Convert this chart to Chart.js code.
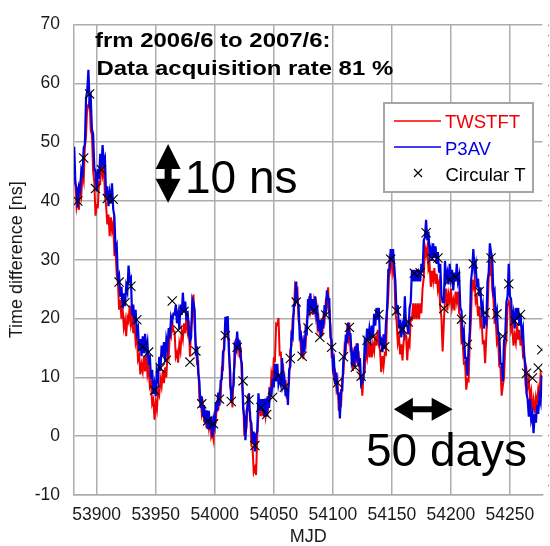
<!DOCTYPE html>
<html>
<head>
<meta charset="utf-8">
<script src="https://cdn.jsdelivr.net/npm/chart.js@4.4.1/dist/chart.umd.min.js"></script>
<style>
html, body { margin: 0; padding: 0; background: #fff; }
#wrap { width: 550px; height: 546px; }
</style>
</head>
<body>
<div id="wrap"><canvas id="chart" width="550" height="546"></canvas></div>
<script>
// daily samples, first day MJD 53881
const mjdStart = 53881;

const p3av = [
  49.2, 42.9, 42.3, 38.9, 42.4, 41.8, 45.3, 44.6, 49, 49.6,
  57.4, 58.7, 62.3, 56.6, 57.5, 52.1, 51.4, 45.7, 44.9, 41.6,
  45.4, 43.7, 48, 45.6, 49.5, 46.6, 47.3, 40.7, 42.5, 39.1,
  41.3, 39.6, 43, 38.6, 37.4, 31.7, 32.4, 26.6, 27.3, 23.7,
  25.4, 21.7, 24.3, 22.1, 25.5, 24.6, 29, 26.5, 26.9, 20.6,
  22.4, 19.1, 21.5, 17.6, 18.4, 14.6, 16.5, 13.6, 17, 14.1,
  17.4, 14.6, 15.9, 12.1, 13.9, 9.7, 11.3, 7.2, 8.8, 6.8,
  10.9, 9.6, 13.5, 11.1, 15.4, 13.6, 16, 12.6, 16.4, 15.1,
  18.4, 16.7, 20.3, 19.6, 20.8, 20.7, 22.3, 19.2, 20.8, 18.2,
  22.4, 20.6, 24.4, 21.2, 22.9, 19.7, 21.3, 17.7, 16.2, 16.8,
  23.3, 22.7, 21.4, 13.7, 15.3, 10.7, 9.3, 4.8, 6.8, 3.3,
  5.3, 2.2, 4.4, 1.2, 4.3, 1.2, 3.3, -0.1, 2.8, 1.8,
  5.8, 4.2, 7.4, 5.2, 9.4, 9.7, 14.4, 14.7, 20.3, 18.8,
  20.4, 14.2, 11.3, 5.8, 7.9, 8.7, 15.4, 14.8, 17.8, 14.7,
  16.3, 13.2, 12.3, 4.8, 3.3, -0.7, 4.3, 5.3, 7.3, 2.8,
  2.2, -1.1, 0.8, -2.6, 0.3, 0.8, 7.3, 4.3, 6.3, 4.3,
  6.3, 3.3, 6.4, 3.3, 6.8, 4.8, 8.3, 6.8, 9.8, 8.3,
  12.3, 9.3, 12.3, 8.8, 9.8, 8.8, 13.3, 8.8, 9.8, 6.8,
  8.3, 5.3, 11.3, 11.8, 17.3, 16.8, 22.3, 22.3, 26.3, 22.8,
  22.3, 16.8, 17.3, 13.8, 15.8, 14.3, 18.3, 17.8, 23.3, 21.8,
  24.3, 21.3, 23.3, 20.8, 23.8, 20.3, 21.3, 17.8, 19.8, 16.8,
  19.8, 18.3, 22.3, 20.8, 24.8, 23.3, 23.3, 16.8, 16.3, 11.8,
  12.8, 8.8, 10.8, 7.3, 7.3, 3, 7.8, 7.8, 13.3, 13.3,
  17.3, 15.8, 19.3, 17.3, 17.3, 12.8, 13.8, 11.8, 15.3, 13.8,
  15.8, 11.8, 13.3, 8.8, 9.3, 9.8, 15.8, 14.8, 18.3, 16.3,
  18.3, 16.8, 18.8, 16.8, 20.8, 18.8, 21.8, 19.8, 21.8, 15.8,
  16.3, 14.3, 17.3, 14.8, 19.3, 21.8, 28.3, 28.3, 31.8, 29.8,
  31.8, 28.8, 26.3, 20.8, 22.3, 18.3, 19.8, 16.8, 18.8, 17.8,
  23.8, 18.8, 18.8, 17.3, 21.8, 22.8, 28.3, 26.3, 28.3, 26.3,
  28.3, 26.3, 28.3, 26.3, 29.3, 27.8, 33.3, 33.8, 36.8, 33.3,
  34.8, 30.8, 31.8, 29.8, 32.8, 30.3, 32.3, 29.3, 31.3, 27.8,
  29.3, 23.8, 22.8, 22.8, 29.8, 26.8, 27.8, 25.8, 29.3, 26.8,
  28.3, 24.8, 27.8, 26.3, 29.3, 26.3, 27.3, 21.8, 21.3, 16.8,
  17.8, 13.3, 13.3, 10.3, 15.3, 17.8, 26.3, 28.3, 31.8, 28.3,
  29.3, 25.3, 26.8, 23.8, 25.3, 21.3, 22.3, 18.3, 19.8, 19.3,
  26.3, 27.8, 32.8, 31.3, 30.3, 24.3, 24.8, 20.3, 21.3, 17.3,
  17.3, 12.3, 12.3, 9.3, 16.3, 16.8, 22.8, 23.8, 29.3, 23.8,
  23.3, 19.3, 20.8, 18.3, 21.8, 19.8, 21.8, 18.8, 20.8, 17.3,
  18.3, 13.8, 12.3, 7.3, 6.3, 3.3, 6.3, 2.8, 3.8, 0.5,
  3.8, 2.3, 5.3, 3.8, 6.8, 5.8, 10.3
];

const twstft = [
  44, 43.2, 39, 40.2, 38.5, 42.2, 41, 44.7, 43.5, 49.2,
  51, 56.2, 56, 57.2, 52, 51.2, 45, 43.2, 37.5, 39.2,
  39, 43.2, 43, 46.2, 44.5, 46.2, 41, 39.2, 36, 37.7,
  34, 37.2, 35, 36.2, 31, 31.2, 27.5, 26.2, 21.5, 23.2,
  20, 21.7, 18.5, 19.7, 17, 20.2, 19.5, 22.2, 19, 20.2,
  17.5, 19.2, 16, 17.2, 13, 13.7, 10.5, 12.2, 11, 13.7,
  11, 13.7, 10.5, 11.7, 8.5, 9.2, 5.5, 6.2, 2.8, 5.7,
  4.5, 7.7, 7, 9.7, 8.5, 11.2, 9, 11.7, 10, 14.2,
  13.5, 17.7, 17, 19.5, 17.8, 17.8, 13.5, 14.2, 12.5, 15.7,
  14.5, 17.7, 16.5, 19.2, 17.5, 20.2, 18, 19.7, 13.5, 18.7,
  20.4, 24.1, 18.4, 15.6, 12.4, 12.6, 6.4, 6.6, 3.9, 5.1,
  2.4, 4.1, 1.4, 3.1, 1.4, 3.1, -0.1, 0.6, -0.6, 3.6,
  2.9, 6.1, 4.4, 7.1, 6.4, 11.6, 11.4, 16.6, 16.9, 20.1,
  17.4, 16.1, 8.4, 7.6, 4.9, 10.6, 12.4, 16.6, 14.9, 16.6,
  13.4, 15.1, 9.4, 6.6, 0.4, 0.6, 1.4, 7.1, 4.4, 4.1,
  -1.6, -1.9, -6.1, -5.4, -6.6, 0.1, 3.4, 6.1, 3.4, 6.1,
  3.4, 5.1, 3.4, 5.6, 4.4, 7.6, 6.9, 10.6, 9.4, 13.1,
  12.9, 19.1, 18.9, 20.1, 13.9, 14.1, 10.9, 11.6, 7.9, 9.6,
  6.4, 8.1, 9.4, 14.6, 15.4, 20.1, 20.9, 25.6, 24.9, 25.1,
  19.6, 18.8, 14.6, 15.8, 13.1, 16.3, 15.6, 19.8, 20.6, 23.8,
  21.6, 23.3, 20.6, 22.8, 21.1, 22.3, 18.6, 19.8, 17.1, 18.8,
  17.1, 20.3, 19.6, 22.8, 22.1, 25.3, 20.6, 18.8, 13.6, 13.8,
  10.1, 10.8, 8.1, 9.3, 4.6, 4.8, 5.1, 9.8, 10.6, 15.3,
  14.6, 17.8, 16.6, 19.3, 14.6, 14.8, 11.1, 13.8, 12.6, 15.8,
  12.9, 13.6, 9.9, 10.1, 6.9, 10.6, 10.9, 14.6, 13.4, 16.1,
  13.4, 16.1, 13.4, 15.6, 14.4, 17.1, 15.4, 18.1, 15.4, 14.6,
  10.9, 13.6, 11.9, 14.1, 13.9, 21.1, 23.9, 29.6, 28.4, 31.1,
  27.9, 29.1, 20.9, 19.6, 15.9, 17.1, 13.9, 15.6, 12.9, 16.1,
  17.4, 17.1, 12.9, 16.1, 15.4, 20.1, 19.9, 22.6, 19.9, 22.6,
  19.9, 22.6, 19.9, 22.6, 20.9, 25.1, 26.9, 32.1, 30.9, 32.1,
  28.4, 29.1, 25.4, 28.1, 26.4, 28.6, 25.9, 27.6, 24.9, 26.1,
  21.9, 20.1, 14.4, 19.1, 23.4, 25.1, 21.4, 24.1, 22.9, 25.1,
  21.9, 23.1, 21.4, 24.6, 22.9, 24.6, 20.9, 20.6, 15.9, 16.1,
  12.4, 12.6, 7.9, 9.6, 9.4, 16.1, 19.9, 26.6, 25.4, 26.6,
  22.9, 23.6, 20.4, 22.1, 18.9, 19.6, 15.9, 16.1, 12.4, 17.1,
  20.9, 27.1, 27.4, 30.6, 24.9, 23.6, 19.4, 19.6, 15.9, 16.6,
  11.9, 11.6, 6.9, 8.6, 9.9, 15.1, 16.4, 22.1, 22.9, 22.1,
  17.9, 18.6, 15.4, 17.1, 15.9, 19.1, 16.4, 18.1, 15.4, 17.1,
  13.9, 14.6, 9.9, 11.1, 8.4, 9.6, 6.4, 7.6, 4.4, 6.1,
  3.9, 6.6, 5.4, 8.1, 6.9, 10.6, 9.9
];

const circTMjd = [
  53884, 53889, 53894, 53899, 53904, 53909, 53914, 53919, 53924, 53929,
  53934, 53939, 53944, 53949, 53954, 53959, 53964, 53969, 53974, 53979,
  53984, 53989, 53994, 53999, 54004, 54009, 54014, 54019, 54024, 54029,
  54034, 54039, 54044, 54049, 54054, 54059, 54064, 54069, 54074, 54079,
  54084, 54089, 54094, 54099, 54104, 54109, 54114, 54119, 54124, 54129,
  54134, 54139, 54144, 54149, 54154, 54159, 54164, 54169, 54174, 54179,
  54184, 54189, 54194, 54199, 54204, 54209, 54214, 54219, 54224, 54229,
  54234, 54239, 54244, 54249, 54254, 54259, 54264, 54269, 54274, 54277
];
const circT = [
  40.0, 47.3, 58.2, 42.1, 45.3, 40.4, 40.3, 26.2, 22.7, 25.5,
  19.8, 15.2, 14.3, 7.8, 11.6, 12.9, 23.0, 18.0, 21.2, 12.6,
  14.5, 5.5, 2.6, 2.1, 6.3, 17.1, 5.9, 15.1, 9.4, 6.2,
  -1.6, 4.9, 3.7, 6.6, 10.3, 8.3, 13.2, 22.8, 13.6, 18.4,
  21.4, 16.8, 20.6, 15.1, 9.1, 13.5, 18.5, 11.7, 10.2, 16.3,
  16.9, 20.7, 15.2, 30.1, 21.3, 18.2, 19.4, 27.7, 27.8, 34.6,
  30.2, 30.3, 21.7, 26.6, 27.1, 19.9, 15.6, 29.3, 24.6, 21.0,
  30.3, 20.8, 17.0, 25.9, 19.6, 20.7, 10.7, 9.9, 11.6, 14.7
];

const xTicks = [53900, 53950, 54000, 54050, 54100, 54150, 54200, 54250];
const seriesNames = ["TWSTFT", "P3AV", "Circular T"];
const noteLines = ["frm 2006/6 to 2007/6:", "Data acquisition rate 81 %"];

const FONT = '"Liberation Sans", Arial, sans-serif';
const RED = "#f00000";
const BLUE = "#0000e0";
const GRID = "#adadad";

function toPoints(values) {
    return values.map((v, i) => ({ x: mjdStart + i, y: v }));
}

// notes, scale arrows and the legend box drawn over the plot
const overlay = {
    id: "overlay",
    afterDraw(chart) {
        const ctx = chart.ctx;
        const xs = chart.scales.x;
        const ys = chart.scales.y;
        ctx.save();

        // small ticks along right edge
        ctx.strokeStyle = "#9a9a9a";
        ctx.lineWidth = 1;
        ctx.setLineDash([2, 8]);
        ctx.beginPath();
        ctx.moveTo(548.5, chart.chartArea.top);
        ctx.lineTo(548.5, chart.chartArea.bottom);
        ctx.stroke();
        ctx.setLineDash([]);

        ctx.fillStyle = "#000";
        ctx.textBaseline = "alphabetic";
        ctx.font = "bold 21px " + FONT;
        [[95, 46.5], [96.5, 75]].forEach((p, i) => {
            ctx.save();
            ctx.translate(p[0], p[1]);
            ctx.scale(1.14, 1);
            ctx.fillText(noteLines[i], 0, 0);
            ctx.restore();
        });

        ctx.font = "46px " + FONT;
        ctx.fillText("10 ns", 185, 193);
        ctx.fillText("50 days", 366, 466);

        // vertical 10 ns arrow
        const ax = xs.getPixelForValue(53960.5);
        const top = ys.getPixelForValue(49.7);
        const bot = ys.getPixelForValue(39.7);
        ctx.beginPath();
        ctx.moveTo(ax, top);
        ctx.lineTo(ax + 12.5, top + 25);
        ctx.lineTo(ax + 3.5, top + 25);
        ctx.lineTo(ax + 3.5, bot - 24);
        ctx.lineTo(ax + 12.5, bot - 24);
        ctx.lineTo(ax, bot);
        ctx.lineTo(ax - 12.5, bot - 24);
        ctx.lineTo(ax - 3.5, bot - 24);
        ctx.lineTo(ax - 3.5, top + 25);
        ctx.lineTo(ax - 12.5, top + 25);
        ctx.closePath();
        ctx.fill();

        // horizontal 50 days arrow
        const ay = ys.getPixelForValue(4.6);
        const lft = xs.getPixelForValue(54151.7);
        const rgt = xs.getPixelForValue(54201.5);
        ctx.beginPath();
        ctx.moveTo(lft, ay);
        ctx.lineTo(lft + 19, ay - 11.5);
        ctx.lineTo(lft + 19, ay - 3);
        ctx.lineTo(rgt - 21, ay - 3);
        ctx.lineTo(rgt - 21, ay - 11.5);
        ctx.lineTo(rgt, ay);
        ctx.lineTo(rgt - 21, ay + 11.5);
        ctx.lineTo(rgt - 21, ay + 3);
        ctx.lineTo(lft + 19, ay + 3);
        ctx.lineTo(lft + 19, ay + 11.5);
        ctx.closePath();
        ctx.fill();

        // legend
        ctx.fillStyle = "#fff";
        ctx.fillRect(384, 103, 149, 89);
        ctx.strokeStyle = "#a6a6a6";
        ctx.lineWidth = 2;
        ctx.strokeRect(384, 103, 149, 89);
        ctx.lineWidth = 1.3;
        ctx.strokeStyle = RED;
        ctx.beginPath(); ctx.moveTo(394, 121); ctx.lineTo(441, 121); ctx.stroke();
        ctx.strokeStyle = BLUE;
        ctx.beginPath(); ctx.moveTo(394, 147); ctx.lineTo(441, 147); ctx.stroke();
        ctx.strokeStyle = "#000";
        ctx.lineWidth = 1.1;
        ctx.beginPath();
        ctx.moveTo(414, 169); ctx.lineTo(422, 177);
        ctx.moveTo(422, 169); ctx.lineTo(414, 177);
        ctx.stroke();
        ctx.font = "18.5px " + FONT;
        ctx.fillStyle = RED;
        ctx.fillText(seriesNames[0], 445, 128);
        ctx.fillStyle = BLUE;
        ctx.fillText(seriesNames[1], 445, 155);
        ctx.fillStyle = "#000";
        ctx.fillText(seriesNames[2], 445.5, 181);

        ctx.restore();
    }
};

Chart.defaults.font.family = FONT;
Chart.defaults.color = "#1a1a1a";

new Chart(document.getElementById("chart").getContext("2d"), {
    type: "line",
    data: {
        datasets: [
            {
                label: seriesNames[0],
                data: toPoints(twstft),
                borderColor: RED,
                borderWidth: 2,
                pointRadius: 0,
                order: 3
            },
            {
                label: seriesNames[1],
                data: toPoints(p3av),
                borderColor: BLUE,
                borderWidth: 2.2,
                pointRadius: 0,
                order: 2
            },
            {
                label: seriesNames[2],
                data: circTMjd.map((m, i) => ({ x: m, y: circT[i] })),
                showLine: false,
                pointStyle: "crossRot",
                pointRadius: 6.5,
                pointBorderWidth: 1.1,
                pointBorderColor: "#000",
                order: 1
            }
        ]
    },
    options: {
        responsive: false,
        animation: false,
        devicePixelRatio: 1,
        layout: { padding: { top: 15, right: 0, left: 0, bottom: 0 } },
        plugins: {
            legend: { display: false },
            tooltip: { enabled: false }
        },
        scales: {
            x: {
                type: "linear",
                min: 53880.8,
                max: 54277.5,
                afterBuildTicks: scale => {
                    scale.ticks = xTicks.map(v => ({ value: v }));
                },
                afterFit: scale => { scale.height = 51; },
                grid: { color: GRID, lineWidth: 1.5, drawTicks: false },
                border: { color: GRID, width: 1.5 },
                ticks: {
                    padding: 10,
                    autoSkip: false,
                    maxRotation: 0,
                    font: { size: 17.5 },
                    callback: v => String(v)
                },
                title: {
                    display: true,
                    text: "MJD",
                    font: { size: 18, lineHeight: 1 },
                    padding: { top: 0, bottom: 0 }
                }
            },
            y: {
                min: -10,
                max: 70,
                afterFit: scale => { scale.width = 74; },
                grid: { color: GRID, lineWidth: 1.5, drawTicks: false },
                border: { color: GRID, width: 1.5 },
                ticks: {
                    stepSize: 10,
                    padding: 14,
                    font: { size: 17.5 },
                    callback: v => String(v)
                },
                title: {
                    display: true,
                    text: "Time difference [ns]",
                    font: { size: 18, lineHeight: 1 },
                    padding: { top: 8.5, bottom: 0 }
                }
            }
        }
    },
    plugins: [overlay]
});
</script>
</body>
</html>
